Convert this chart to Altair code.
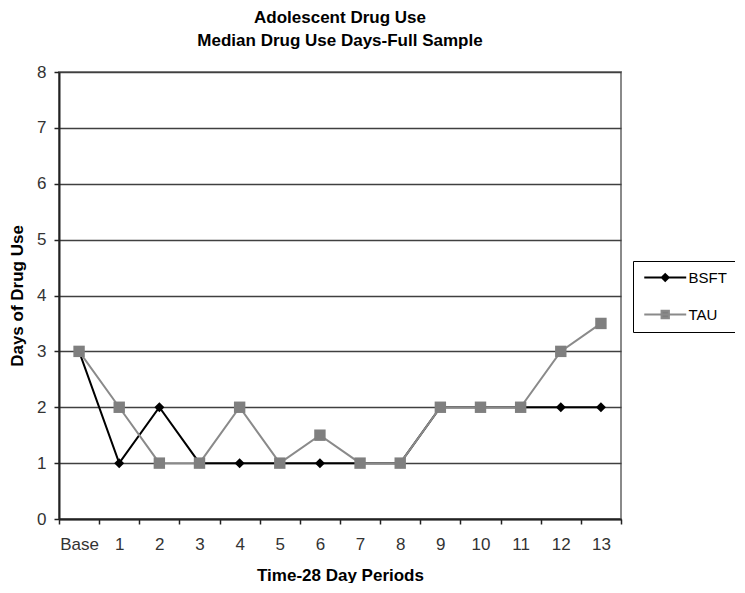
import altair as alt
import pandas as pd

periods = ["Base", "1", "2", "3", "4", "5", "6", "7", "8", "9", "10", "11", "12", "13"]
bsft = [3, 1, 2, 1, 1, 1, 1, 1, 1, 2, 2, 2, 2, 2]
tau = [3, 2, 1, 1, 2, 1, 1.5, 1, 1, 2, 2, 2, 3, 3.5]
series_names = ["BSFT", "TAU"]
y_ticks = [0, 1, 2, 3, 4, 5, 6, 7, 8]

df = pd.DataFrame({
    "period": periods * 2,
    "value": bsft + tau,
    "series": ["BSFT"] * len(bsft) + ["TAU"] * len(tau),
})

FONT = "Liberation Sans"

x_enc = alt.X(
    "period:N", sort=periods,
    scale=alt.Scale(type="band", paddingInner=0, paddingOuter=0),
    axis=alt.Axis(
        title="Time-28 Day Periods", labelAngle=0, tickBand="extent",
        grid=False, tickSize=5, labelPadding=12, labelFontSize=17,
        labelColor="#333333", labelFont=FONT, titleFont=FONT,
        titleFontSize=17, titleFontWeight="bold", titleColor="#000000",
        domainColor="#222222", domainWidth=2, tickColor="#222222", tickWidth=1.5,
        titlePadding=15,
    ),
)
y_enc = alt.Y(
    "value:Q",
    scale=alt.Scale(domain=[0, 8], nice=False),
    axis=alt.Axis(
        title="Days of Drug Use", values=y_ticks, grid=True,
        gridColor="#404040", gridWidth=1.5, tickSize=5, labelPadding=8,
        labelFontSize=17, labelColor="#333333", labelFont=FONT,
        titleFont=FONT, titleFontSize=17, titleFontWeight="bold",
        titleColor="#000000", domainColor="#222222", domainWidth=2,
        tickColor="#222222", tickWidth=1.5, titlePadding=10,
    ),
)

base = alt.Chart(df)

bsft_line = base.transform_filter(alt.datum.series == "BSFT").mark_line(
    color="#000000", strokeWidth=2).encode(x=x_enc, y=y_enc)
bsft_pts = base.transform_filter(alt.datum.series == "BSFT").mark_point(
    shape="diamond", filled=True, size=100, color="#000000", opacity=1).encode(x=x_enc, y=y_enc)
tau_line = base.transform_filter(alt.datum.series == "TAU").mark_line(
    color="#8a8a8a", strokeWidth=2).encode(x=x_enc, y=y_enc)
tau_pts = base.transform_filter(alt.datum.series == "TAU").mark_point(
    shape="square", filled=True, size=130, color="#7f7f7f", opacity=1).encode(x=x_enc, y=y_enc)

diamond_path = "M-1,0H7M3,-0.65L3.65,0L3,0.65L2.35,0Z"
square_path = "M-1,0H7M2.3,-0.7H3.7V0.7H2.3Z"

leg = dict(title=None, orient="none", legendX=574, legendY=189)

carrier = base.mark_point(filled=True, opacity=0, size=110, strokeWidth=2).encode(
    x=x_enc, y=y_enc,
    fill=alt.Fill("series:N", scale=alt.Scale(domain=series_names, range=["#000000", "#7f7f7f"]),
                  legend=alt.Legend(**leg)),
    stroke=alt.Stroke("series:N", scale=alt.Scale(domain=series_names, range=["#000000", "#8a8a8a"]),
                      legend=alt.Legend(**leg)),
    shape=alt.Shape("series:N", scale=alt.Scale(domain=series_names, range=[diamond_path, square_path]),
                    legend=alt.Legend(**leg)),
)

chart = alt.layer(bsft_line, bsft_pts, tau_line, tau_pts, carrier).properties(
    width=562, height=447,
    title=alt.Title(
        ["Adolescent Drug Use", "Median Drug Use Days-Full Sample"],
        fontSize=17, font=FONT, fontWeight="bold", anchor="middle",
        lineHeight=23, offset=13, color="#000000",
    ),
    autosize=alt.AutoSizeParams(type="none"),
    padding={"left": 51, "top": 64, "right": 114, "bottom": 64},
).configure_view(
    stroke="#8a8a8a", strokeWidth=2
).configure_legend(
    padding=9, rowPadding=20, labelOffset=31.5, labelFontSize=15, labelFont=FONT,
    labelColor="#000000", strokeColor="#000000", strokeWidth=1, fillColor="#ffffff",
    symbolStrokeWidth=2, symbolSize=110, labelLimit=200, symbolOpacity=1,
    symbolFillColor="#7f7f7f",
)

chart.save("out.html", embed_options={"renderer": "svg", "actions": False})
